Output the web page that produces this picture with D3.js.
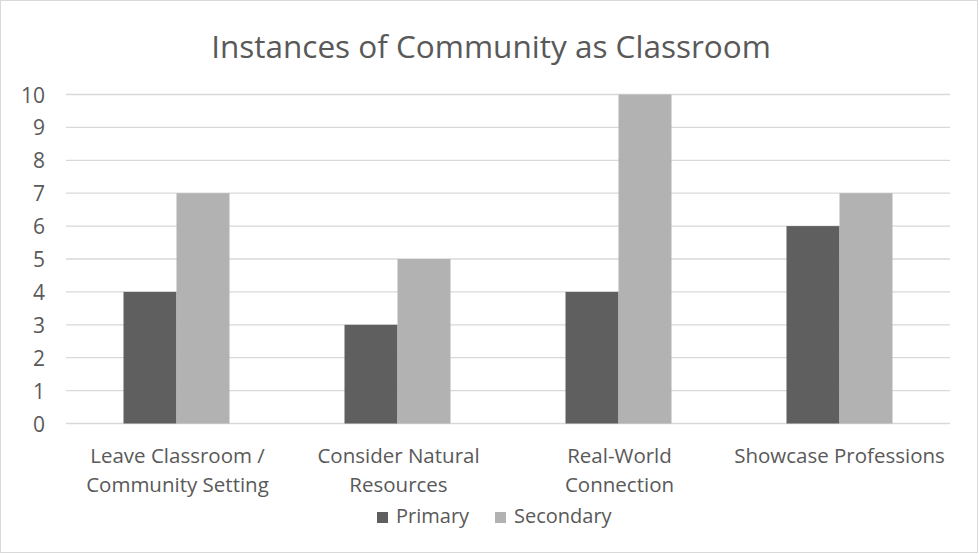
<!DOCTYPE html>
<html><head><meta charset="utf-8">
<script src="https://cdn.jsdelivr.net/npm/d3@7"></script>
<style>body{margin:0;background:#fff}svg{display:block}</style>
</head><body><svg id="c" width="979" height="554"></svg>
<script>
const categories = [["Leave Classroom /","Community Setting"],["Consider Natural","Resources"],["Real-World","Connection"],["Showcase Professions"]];
const seriesNames = ["Primary","Secondary"];
const primary = [4,3,4,6];
const secondary = [7,5,10,7];
const yTicks = [0,1,2,3,4,5,6,7,8,9,10];
const colors = ["#5f5f5f","#b2b2b2"];
const title = "Instances of Community as Classroom";

const svg = d3.select("#c");
const font = "'Open Sans', sans-serif";
const txt = "#595959";
svg.append("rect").attr("x",0.5).attr("y",0.5).attr("width",977).attr("height",552)
  .attr("fill","#fff").attr("stroke","#d9d9d9");

const L=66,R=950,T=94.5,B=423.5;
const x0 = d3.scaleBand().domain(d3.range(categories.length)).range([L,R]).paddingInner(0).paddingOuter(0);
const bw = 53;
const y = d3.scaleLinear().domain([0,10]).range([B,T]);

svg.append("g").selectAll("line").data(yTicks).join("line")
  .attr("x1",L).attr("x2",R).attr("y1",d=>y(d)).attr("y2",d=>y(d))
  .attr("stroke","#d9d9d9").attr("stroke-width",1.3);

const yAxis = d3.axisLeft(y).tickValues(yTicks).tickSize(0).tickPadding(0);
const ga = svg.append("g").attr("transform","translate(45,0)").call(yAxis);
ga.select(".domain").remove();
ga.selectAll("text").attr("font-family",font).attr("font-size",21).attr("fill",txt).attr("dy","0.36em");

const data = [primary, secondary];
data.forEach((s,si)=>{
  svg.append("g").selectAll("rect").data(s).join("rect")
    .attr("x",(d,i)=>x0(i)+x0.bandwidth()/2 - bw + si*bw)
    .attr("width",bw)
    .attr("y",d=>y(d)).attr("height",d=>B-y(d))
    .attr("fill",colors[si]);
});

const xl = svg.append("g");
categories.forEach((lines,i)=>{
  const cx = x0(i)+x0.bandwidth()/2 + (i===3?0:1);
  const t = xl.append("text").attr("x",cx).attr("y",463)
    .attr("text-anchor","middle").attr("font-family",font).attr("font-size",20.5).attr("fill",txt);
  lines.forEach((ln,j)=>t.append("tspan").attr("x",cx).attr("dy",j?29:0).text(ln));
});

svg.append("text").attr("x",491).attr("y",58).attr("text-anchor","middle")
  .attr("font-family",font).attr("font-size",31.5).attr("fill",txt).text(title);

const lg = svg.append("g");
const lx = [377,495];
seriesNames.forEach((n,i)=>{
  lg.append("rect").attr("x",lx[i]).attr("y",512).attr("width",11).attr("height",11).attr("fill",colors[i]);
  lg.append("text").attr("x",lx[i]+19).attr("y",523).attr("font-family",font).attr("font-size",20).attr("fill",txt).text(n);
});
</script></body></html>
